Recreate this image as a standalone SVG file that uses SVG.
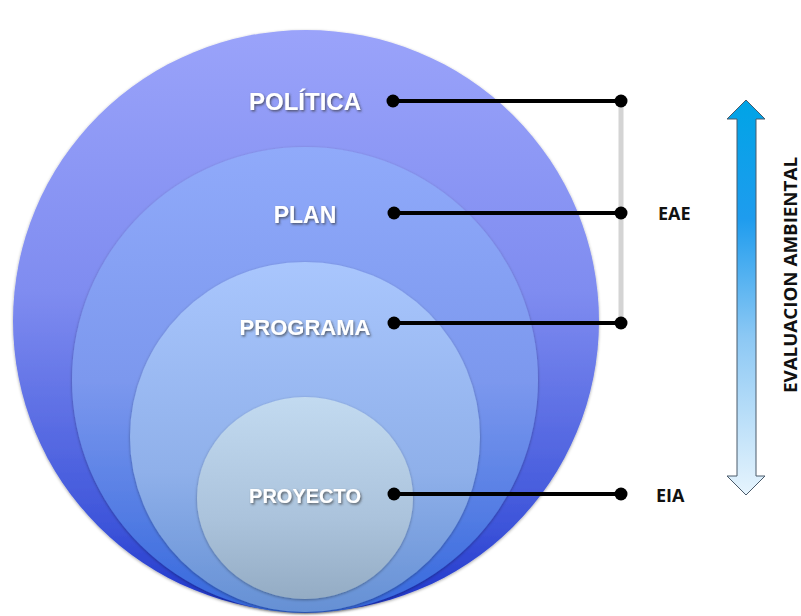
<svg xmlns="http://www.w3.org/2000/svg" width="801" height="616" viewBox="0 0 801 616">
<defs>
<linearGradient id="g1" x1="0" y1="0" x2="0" y2="1">
<stop offset="0" stop-color="#9aa3fa"/><stop offset="0.45" stop-color="#7f8cf0"/><stop offset="0.85" stop-color="#3e55da"/><stop offset="1" stop-color="#1e34c8"/>
</linearGradient>
<linearGradient id="g2" x1="0" y1="0" x2="0" y2="1">
<stop offset="0" stop-color="#90aafa"/><stop offset="0.5" stop-color="#7c98ee"/><stop offset="1" stop-color="#3568dc"/>
</linearGradient>
<linearGradient id="g3" x1="0" y1="0" x2="0" y2="1">
<stop offset="0" stop-color="#a9c6fd"/><stop offset="0.6" stop-color="#8fb0ea"/><stop offset="1" stop-color="#6590d4"/>
</linearGradient>
<linearGradient id="g4" x1="0" y1="0" x2="0" y2="1">
<stop offset="0" stop-color="#c2daf0"/><stop offset="0.6" stop-color="#abc3dc"/><stop offset="1" stop-color="#94acc4"/>
</linearGradient>
<linearGradient id="ga" x1="0" y1="0" x2="0" y2="1">
<stop offset="0" stop-color="#00a4e6"/><stop offset="0.3" stop-color="#1e9cee"/><stop offset="0.6" stop-color="#8cc8f4"/><stop offset="1" stop-color="#e6f4fd"/>
</linearGradient>
<filter id="sh" x="-10%" y="-10%" width="120%" height="120%">
<feDropShadow dx="0" dy="1" stdDeviation="1.5" flood-color="#000" flood-opacity="0.35"/>
</filter>
<filter id="ts" x="-10%" y="-20%" width="120%" height="140%">
<feDropShadow dx="1.2" dy="1.5" stdDeviation="0.8" flood-color="#333" flood-opacity="0.7"/>
</filter>
</defs>
<style>
.lbl{font-family:"Liberation Sans",Arial,sans-serif;font-weight:bold;fill:#fff;text-anchor:middle;filter:url(#ts)}
.side{font-family:"Open Sans","Liberation Sans",sans-serif;font-weight:bold;fill:#111;font-size:18px}
.ln{stroke:#000;stroke-width:4;fill:none}
.dot{fill:#000}
</style>
<rect width="801" height="616" fill="#fff"/>
<g id="politica">
<ellipse cx="306" cy="321" rx="293" ry="291" fill="url(#g1)" filter="url(#sh)"/>
<text class="lbl" x="305" y="110" font-size="24">POLÍTICA</text>
</g>
<g id="plan">
<ellipse cx="305" cy="380" rx="233" ry="233" fill="url(#g2)" filter="url(#sh)"/>
<text class="lbl" x="305" y="223" font-size="23">PLAN</text>
</g>
<g id="programa">
<ellipse cx="305" cy="437" rx="175" ry="175" fill="url(#g3)" filter="url(#sh)"/>
<text class="lbl" x="305" y="335" font-size="22">PROGRAMA</text>
</g>
<g id="proyecto">
<ellipse cx="305" cy="498" rx="108" ry="101" fill="url(#g4)" filter="url(#sh)"/>
<text class="lbl" x="305" y="503" font-size="20">PROYECTO</text>
</g>
<g id="connectors">
<line x1="621" y1="101" x2="621" y2="323" stroke="#d4d4d4" stroke-width="5"/>
<line class="ln" x1="393" y1="101" x2="621" y2="101"/>
<line class="ln" x1="394" y1="213" x2="621" y2="213"/>
<line class="ln" x1="394" y1="323" x2="621" y2="323"/>
<line class="ln" x1="394" y1="494" x2="621" y2="494"/>
<circle class="dot" cx="393" cy="101" r="6.5"/><circle class="dot" cx="621" cy="101" r="6.5"/>
<circle class="dot" cx="394" cy="213" r="6.5"/><circle class="dot" cx="621" cy="213" r="6.5"/>
<circle class="dot" cx="394" cy="323" r="6.5"/><circle class="dot" cx="621" cy="323" r="6.5"/>
<circle class="dot" cx="394" cy="494" r="6.5"/><circle class="dot" cx="621" cy="494" r="6.5"/>
</g>
<g id="eae"><text class="side" x="658" y="220">EAE</text></g>
<g id="eia"><text class="side" x="656" y="502">EIA</text></g>
<g id="arrow">
<path d="M746,100 L765,119 L756,119 L756,476 L765,476 L746,495 L727,476 L737,476 L737,119 L727,119 Z" fill="url(#ga)" stroke="#4a5a6a" stroke-width="1"/>
</g>
<g id="eval">
<text class="side" transform="translate(797,275) rotate(-90)" text-anchor="middle" font-size="18" textLength="236" lengthAdjust="spacingAndGlyphs">EVALUACION AMBIENTAL</text>
</g>
</svg>
